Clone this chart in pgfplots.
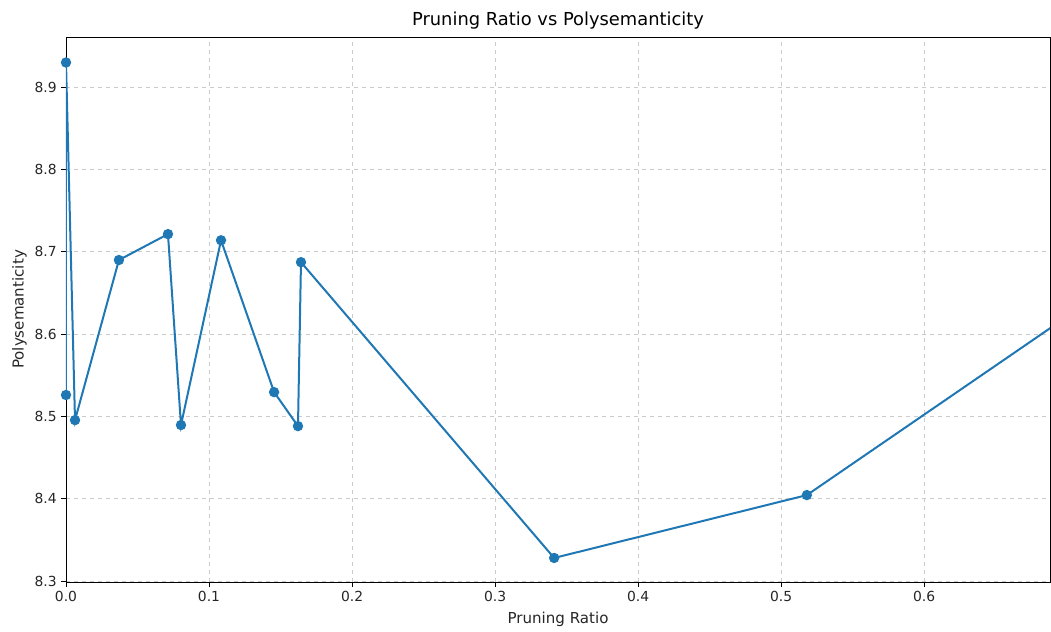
\documentclass[border=0pt]{standalone}
\usepackage{fontspec}
\setmainfont{DejaVu Sans}
\usepackage{pgfplots}
\pgfplotsset{compat=1.18}
\definecolor{mplblue}{HTML}{1F77B4}
\definecolor{gridgray}{HTML}{CBCBCB}
\begin{document}
\begin{tikzpicture}
\begin{axis}[
  scale only axis,
  width=738pt, height=408.75pt,
  xmin=0, xmax=0.688,
  ymin=8.2988, ymax=8.961,
  xtick={0,0.1,...,0.6},
  ytick={8.3,8.4,...,8.9},
  /pgf/number format/assume math mode=true,
  xticklabel style={/pgf/number format/.cd,fixed,fixed zerofill,precision=1},
  yticklabel style={/pgf/number format/.cd,fixed,fixed zerofill,precision=1},
  tick label style={font=\fontsize{10.4}{12}\selectfont, color=black!85},
  label style={font=\fontsize{11.3}{13}\selectfont, color=black!85},
  title style={font=\fontsize{13.4}{15}\selectfont, yshift=-4pt},
  title={Pruning Ratio vs Polysemanticity},
  xlabel={Pruning Ratio},
  ylabel={Polysemanticity},
  xlabel style={yshift=-1pt},
  ylabel style={yshift=-1pt},
  tick align=outside,
  tick pos=left,
  major tick length=3.5pt,
  every tick/.style={black, line width=0.6pt},
  axis line style={black, line width=0.6pt},
  grid=major,
  major grid style={gridgray, dashed, line width=0.6pt},
  clip=true,
]
\addplot[mplblue, line width=1.5pt, mark=*, mark size=3.1pt, mark options={solid, fill=mplblue, draw=mplblue}]
coordinates {
(0.0, 8.526)
(0.0, 8.930)
(0.0063, 8.4955)
(0.037, 8.690)
(0.0713, 8.7215)
(0.0804, 8.4895)
(0.1084, 8.714)
(0.1455, 8.5295)
(0.1622, 8.4882)
(0.1643, 8.6874)
(0.3413, 8.328)
(0.518, 8.4044)
(0.75, 8.681)
};
\end{axis}
\pgfresetboundingbox
\path (current axis.south west) ++(-49.5pt,-37.5pt) rectangle ++(788.25pt,474pt);
\end{tikzpicture}
\end{document}
